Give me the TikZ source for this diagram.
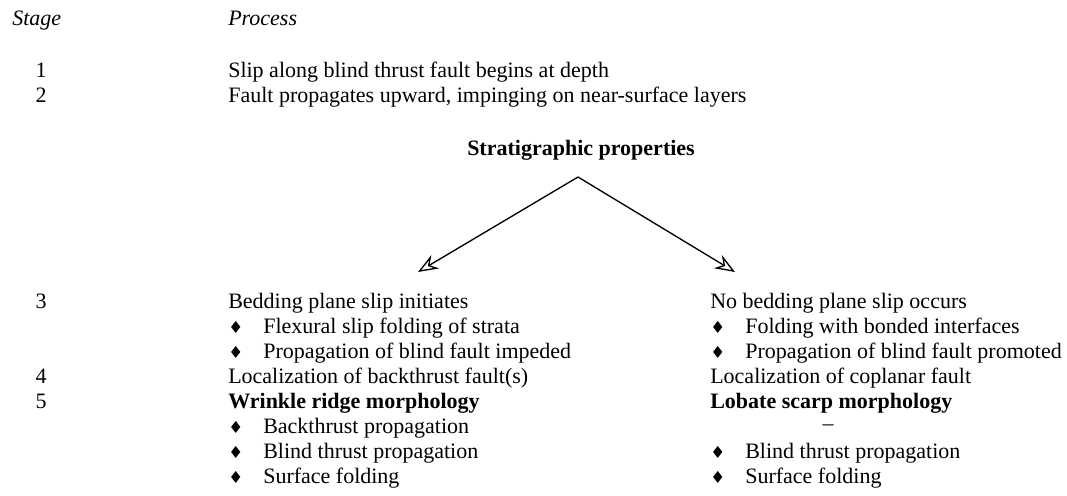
\documentclass[tikz,border=0pt]{standalone}
\usepackage{fontspec}
\setmainfont{Liberation Serif}
\newfontfamily\symf{DejaVu Sans}
\usetikzlibrary{arrows.meta}
\newcommand{\fs}{\fontsize{16.5}{19}\selectfont}
\newcommand{\bul}{\makebox[26.25pt][l]{\symf\fontsize{12.5}{12.5}\selectfont ♦}}
\tikzset{
  tx/.style={anchor=base west, inner sep=0pt, font=\fs},             % plain line
  hd/.style={tx, font=\fs\itshape},                                  % column head
  bd/.style={tx, font=\fs\bfseries},                                 % morphology line
  num/.style={anchor=base, inner sep=0pt, font=\fs},                 % stage number
  ar/.style={draw=black, line width=1pt,
             -{Stealth[open, length=15pt, width=11.5pt, inset=5pt]}},
}

\begin{document}
\begin{tikzpicture}[x=0.75pt, y=-0.75pt]
  \useasboundingbox (0,0) rectangle (1067,496);
  % ---------------- heads and common stages ----------------
  \node[hd]  (hstage) at (12,26)   {Stage};
  \node[hd]  (hproc)  at (228,26)  {Process};
  \node[num] (s1) at (41,77)  {1};
  \node[num] (s2) at (41,102) {2};
  \node[tx]  (p1) at (228,77)  {Slip along blind thrust fault begins at depth};
  \node[tx]  (p2) at (228,102) {Fault propagates upward, impinging on near-surface layers};
  % ---------------- split ----------------
  \node[anchor=base, inner sep=0pt, font=\fs\bfseries] (strat) at (581,155)
    {Stratigraphic properties};
  \coordinate (apex) at (578,177);
  \coordinate (tl)   at (418,272);
  \coordinate (tr)   at (735,272);
  \draw[ar] (apex) -- (tl);
  \draw[ar] (apex) -- (tr);
  % ---------------- stage numbers 3-5 ----------------
  \node[num] (s3) at (41,308) {3};
  \node[num] (s4) at (41,383) {4};
  \node[num] (s5) at (41,408) {5};
  % ---------------- left branch ----------------
  \node[tx] (l1) at (228,308) {Bedding plane slip initiates};
  \node[tx] (l2) at (228,333) {\bul Flexural slip folding of strata};
  \node[tx] (l3) at (228,358) {\bul Propagation of blind fault impeded};
  \node[tx] (l4) at (228,383) {Localization of backthrust fault(s)};
  \node[bd] (l5) at (228,408) {Wrinkle ridge morphology};
  \node[tx] (l6) at (228,433) {\bul Backthrust propagation};
  \node[tx] (l7) at (228,458) {\bul Blind thrust propagation};
  \node[tx] (l8) at (228,483) {\bul Surface folding};
  % ---------------- right branch ----------------
  \node[tx] (r1) at (710,308) {No bedding plane slip occurs};
  \node[tx] (r2) at (710,333) {\bul Folding with bonded interfaces};
  \node[tx] (r3) at (710,358) {\bul Propagation of blind fault promoted};
  \node[tx] (r4) at (710,383) {Localization of coplanar fault};
  \node[bd] (r5) at (710,408) {Lobate scarp morphology};
  \node[num] (r6) at (828,430) {--};
  \node[tx] (r7) at (710,458) {\bul Blind thrust propagation};
  \node[tx] (r8) at (710,483) {\bul Surface folding};
\end{tikzpicture}
\end{document}
